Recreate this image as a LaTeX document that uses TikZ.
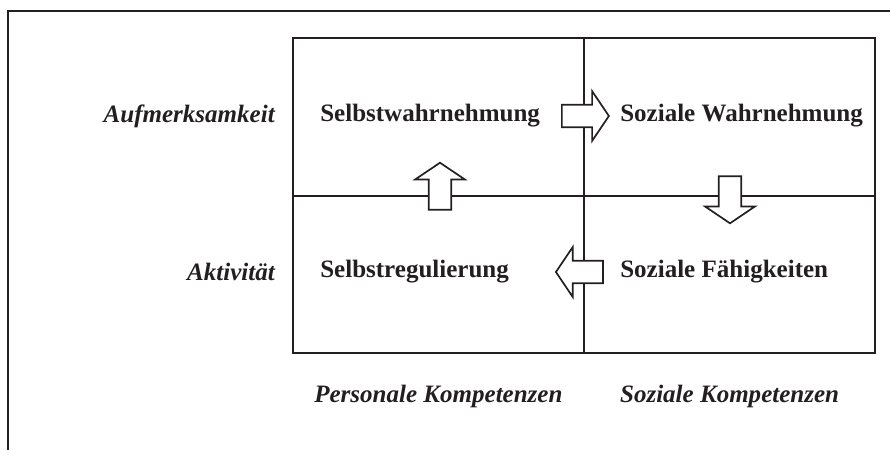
\documentclass[tikz,border=0pt]{standalone}
\usepackage{fontspec}
\setmainfont{Liberation Serif}
\usepackage{tikz}
\usepackage{xcolor}
\usetikzlibrary{shapes, shapes.arrows, positioning}

\definecolor{ink}{HTML}{231F20}

\begin{document}
\begin{tikzpicture}[
        every node/.style={text=ink, font=\fontsize{17.8}{20}\selectfont},
        cell/.style={anchor=west, inner sep=0pt, font=\fontsize{17.8}{20}\selectfont\bfseries},
        axis/.style={inner sep=0pt, font=\fontsize{17.8}{20}\selectfont\bfseries\itshape},
        blockarrow/.style={single arrow, draw=ink, fill=white, line width=1.2pt,
            inner sep=0.26cm, minimum height=1.175cm,
            single arrow head extend=0.34cm, single arrow tip angle=112}
    ]
        \useasboundingbox (0, 0) rectangle (22.25, -11.25);

        % outer frame (only top and left edge visible)
        \draw[ink, line width=1.3pt] (22.25, -.275) -- (.2, -.275) -- (.2, -11.25);

        % four fields
        \draw[ink, line width=1.5pt] (7.325, -.95) rectangle (21.875, -8.825);
        \draw[ink, line width=1.3pt] (14.6, -.95) to (14.6, -8.825)
            (7.325, -4.9) to (21.875, -4.9);

        \node[cell] (sw) at (8, -2.9) {Selbstwahrnehmung};
        \node[cell] (zw) at (15.5, -2.9) {Soziale Wahrnehmung};
        \node[cell] (sr) at (8, -6.8) {Selbstregulierung};
        \node[cell] (zf) at (15.5, -6.8) {Soziale Fähigkeiten};

        \node[axis, anchor=east] (aufm) at (6.875, -2.9) {Aufmerksamkeit};
        \node[axis, anchor=east] (akt) at (6.875, -6.8) {Aktivität};
        \node[axis] (pers) at (10.96, -9.9) {Personale Kompetenzen};
        \node[axis] (soz) at (18.24, -9.9) {Soziale Kompetenzen};

        % arrows between the fields
        \node[blockarrow, shape border rotate=0] (a1) at (14.54, -2.9) {};
        \node[blockarrow, shape border rotate=270] (a2) at (18.25, -4.9) {};
        \node[blockarrow, shape border rotate=180] (a3) at (14.58, -6.8) {};
        \node[blockarrow, shape border rotate=90] (a4) at (11.0, -4.75) {};
    \end{tikzpicture}
\end{document}
